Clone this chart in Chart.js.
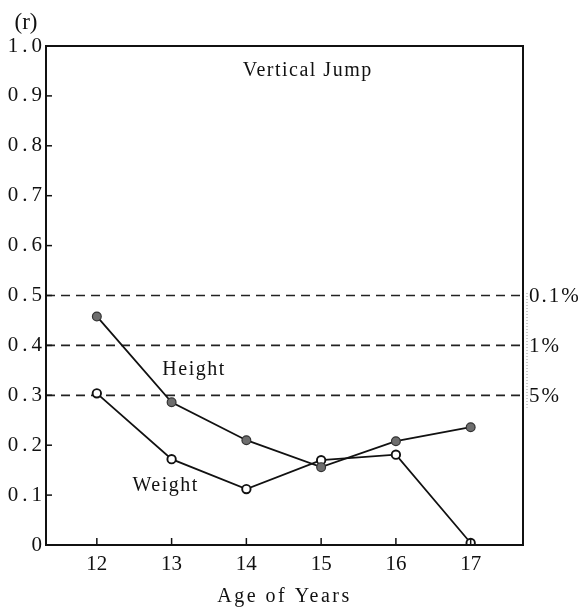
<!DOCTYPE html>
<html>
<head>
<meta charset="utf-8">
<script src="https://cdn.jsdelivr.net/npm/chart.js@4"></script>
<style>
  html,body{margin:0;padding:0;background:#fff}
</style>
</head>
<body>
<canvas id="jumpChart" width="586" height="607"></canvas>
<script>
// data
const ages = [12, 13, 14, 15, 16, 17];
const heightR = [0.458, 0.286, 0.210, 0.156, 0.208, 0.236];
const weightR = [0.304, 0.172, 0.112, 0.170, 0.181, 0.004];
const levels = [0.5, 0.4, 0.3];
const levelLabels = ['0.1%', '1%', '5%'];
const yTicks = [0, 0.1, 0.2, 0.3, 0.4, 0.5, 0.6, 0.7, 0.8, 0.9, 1.0];
const xMin = 11.32, xMax = 17.7;

const serif = '"Liberation Serif", "Times New Roman", serif';
const ink = '#111';

// text notes placed in data coordinates
const notes = [
  {text: 'Vertical Jump', x: 14.82, y: 0.95},
  {text: 'Height', x: 13.30, y: 0.351},
  {text: 'Weight', x: 12.92, y: 0.118}
];

function line(ctx, x1, y1, x2, y2){
  ctx.beginPath(); ctx.moveTo(x1, y1); ctx.lineTo(x2, y2); ctx.stroke();
}

const framePlugin = {
  id: 'frame',
  beforeDraw(chart){
    const ys = chart.scales.y, xs = chart.scales.x;
    // wide typewriter-like spacing of the original lettering
    if(!ys._spaced){
      const f = ys.drawLabels;
      ys.drawLabels = function(a){ const c = this.ctx; c.save(); c.letterSpacing = '4px'; f.call(this, a); c.restore(); };
      ys._spaced = true;
    }
    if(!xs._spaced){
      const g = xs.drawTitle;
      xs.drawTitle = function(a){ const c = this.ctx; c.save(); c.letterSpacing = '2.5px'; g.call(this, a); c.restore(); };
      xs._spaced = true;
    }
  },
  afterDraw(chart){
    const {ctx, chartArea: a, scales: {x, y}} = chart;
    ctx.save();
    ctx.strokeStyle = ink;
    ctx.lineWidth = 2;
    ctx.strokeRect(a.left, a.top, a.right - a.left, a.bottom - a.top);

    // inward tick marks
    ctx.lineWidth = 1.5;
    ages.forEach(v => { const px = x.getPixelForValue(v); line(ctx, px, a.bottom, px, a.bottom - 7); });
    yTicks.slice(1, -1).forEach(v => { const py = y.getPixelForValue(v); line(ctx, a.left, py, a.left + 6, py); });

    // faint dotted bracket next to the significance labels
    ctx.save();
    ctx.strokeStyle = '#999'; ctx.lineWidth = 1; ctx.setLineDash([1, 2]);
    line(ctx, a.right + 4, y.getPixelForValue(0.505), a.right + 4, y.getPixelForValue(0.275));
    ctx.restore();

    ctx.fillStyle = ink;
    ctx.textBaseline = 'middle';
    ctx.font = '21px ' + serif;
    ctx.letterSpacing = '2px';
    ctx.textAlign = 'left';
    levels.forEach((v, i) => ctx.fillText(levelLabels[i], a.right + 6, y.getPixelForValue(v) + 1));

    ctx.font = '20px ' + serif;
    ctx.letterSpacing = '1.5px';
    ctx.textAlign = 'center';
    notes.forEach(n => ctx.fillText(n.text, x.getPixelForValue(n.x), y.getPixelForValue(n.y)));

    ctx.font = '23px ' + serif;
    ctx.letterSpacing = '0px';
    ctx.fillText('(r)', a.left - 20, a.top - 23);
    ctx.restore();
  }
};

const ctx = document.getElementById('jumpChart').getContext('2d');
new Chart(ctx, {
  type: 'line',
  data: {
    datasets: [
      {
        label: 'Height',
        data: ages.map((a, i) => ({x: a, y: heightR[i]})),
        borderColor: ink, borderWidth: 1.8, tension: 0,
        pointRadius: 4.4, pointBackgroundColor: '#6e6e6e', pointBorderColor: '#333', pointBorderWidth: 1.2
      },
      {
        label: 'Weight',
        data: ages.map((a, i) => ({x: a, y: weightR[i]})),
        borderColor: ink, borderWidth: 1.8, tension: 0,
        pointRadius: 4.2, pointBackgroundColor: '#fff', pointBorderColor: '#111', pointBorderWidth: 1.9
      },
      ...levels.map(v => ({
        label: 'level ' + v,
        data: [{x: xMin, y: v}, {x: xMax, y: v}],
        borderColor: '#222', borderWidth: 1.7, borderDash: [9, 6], pointRadius: 0
      }))
    ]
  },
  options: {
    responsive: false,
    animation: false,
    layout: {padding: {top: 46, right: 63, left: 0, bottom: 0}},
    plugins: {legend: {display: false}, tooltip: {enabled: false}},
    scales: {
      x: {
        type: 'linear', min: xMin, max: xMax,
        afterBuildTicks: s => { s.ticks = ages.map(v => ({value: v})); },
        afterFit: s => { s.height = 62; },
        grid: {display: false, drawTicks: false},
        border: {display: false},
        ticks: {color: ink, font: {family: serif, size: 21}, padding: 7, autoSkip: false, maxRotation: 0},
        title: {display: true, text: 'Age of Years', color: ink, font: {family: serif, size: 20, lineHeight: 1}, padding: 0}
      },
      y: {
        min: 0, max: 1,
        afterBuildTicks: s => { s.ticks = yTicks.map(v => ({value: v})); },
        afterFit: s => { s.width = 46; },
        grid: {display: false, drawTicks: false},
        border: {display: false},
        ticks: {color: ink, font: {family: serif, size: 21}, padding: 0,
          callback: v => v === 0 ? '0' : Number(v).toFixed(1)}
      }
    }
  },
  plugins: [framePlugin]
});
</script>
</body>
</html>
